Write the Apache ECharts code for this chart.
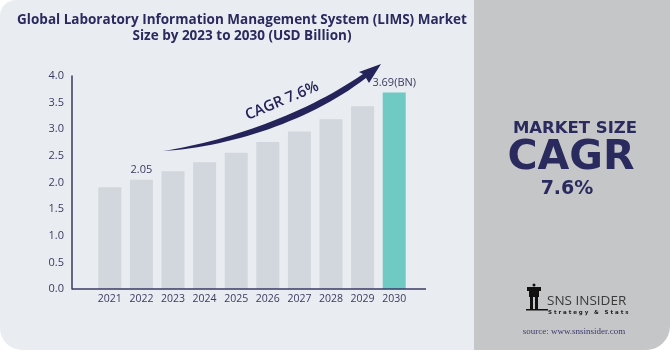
<!DOCTYPE html>
<html>
<head>
<meta charset="utf-8">
<script src="https://cdn.jsdelivr.net/npm/echarts@6/dist/echarts.min.js"></script>
<style>
  html, body { margin: 0; padding: 0; background: #ffffff; }
  #main { width: 670px; height: 350px; }
</style>
</head>
<body>
<div id="main"></div>
<script>
var years = ['2021', '2022', '2023', '2024', '2025', '2026', '2027', '2028', '2029', '2030'];
var marketSize = [1.91, 2.05, 2.21, 2.38, 2.56, 2.76, 2.96, 3.19, 3.43, 3.69];
var yTicks = [0, 0.5, 1, 1.5, 2, 2.5, 3, 3.5, 4];
var labelled = { '2022': '2.05', '2030': '3.69(BN)' };

var navy = '#2a2a5e';
var myChart = echarts.init(document.getElementById('main'));

var barData = marketSize.map(function (v, i) {
    var last = i === marketSize.length - 1;
    return {
        value: v,
        itemStyle: { color: last ? '#6ecac3' : '#d1d7dc' },
        label: {
            show: labelled[years[i]] !== undefined,
            formatter: labelled[years[i]] || ''
        }
    };
});

// swoosh arrow outline (decoration): sample two cubic curves
function cubic(p0, p1, p2, p3, n) {
    var pts = [];
    for (var k = 0; k <= n; k++) {
        var t = k / n, u = 1 - t;
        pts.push([
            u * u * u * p0[0] + 3 * u * u * t * p1[0] + 3 * u * t * t * p2[0] + t * t * t * p3[0],
            u * u * u * p0[1] + 3 * u * u * t * p1[1] + 3 * u * t * t * p2[1] + t * t * t * p3[1]
        ]);
    }
    return pts;
}
var arrowPts = cubic([163, 151], [230, 147], [310, 121], [366, 78], 30)
    .concat([[369, 83], [381, 64], [359, 72]])
    .concat(cubic([363, 74], [305, 114], [228, 141], [163, 151], 30));

var option = {
    backgroundColor: '#ffffff',
    animation: false,
    title: {
        text: 'Global Laboratory Information Management System (LIMS) Market\nSize by 2023 to 2030 (USD Billion)',
        left: 237,
        top: 7,
        textAlign: 'center',
        textStyle: {
            fontFamily: 'Open Sans',
            fontWeight: 'bold',
            fontSize: 13.5,
            lineHeight: 16,
            color: navy
        },
        z: 10
    },
    grid: { left: 94, top: 76, width: 316, height: 213 },
    xAxis: {
        type: 'category',
        data: years,
        axisLine: { show: false },
        axisTick: { show: false },
        axisLabel: { interval: 0, color: '#3b3b60', fontSize: 10.5, fontFamily: 'Open Sans', margin: 5 }
    },
    yAxis: {
        type: 'value',
        min: 0,
        max: 4,
        interval: 0.5,
        offset: 22,
        splitLine: { show: false },
        axisLine: { show: true, lineStyle: { color: '#3a3a66', width: 1.5 } },
        axisTick: { show: false },
        axisLabel: {
            color: '#3b3b60',
            fontSize: 11,
            fontFamily: 'Open Sans',
            margin: 8,
            formatter: function (v) { return yTicks.indexOf(v) >= 0 ? v.toFixed(1) : ''; }
        }
    },
    series: [{
        type: 'bar',
        data: barData,
        barWidth: 23,
        label: {
            position: 'top',
            distance: 4,
            color: '#3b3b60',
            fontSize: 11,
            fontFamily: 'Open Sans'
        },
        z: 5
    }],
    graphic: [
        // panels
        { type: 'rect', z: -10, shape: { x: 0, y: 0, width: 476, height: 350, r: [16, 0, 0, 22] }, style: { fill: '#e9ecf1' } },
        { type: 'rect', z: -9, shape: { x: 474, y: 0, width: 196, height: 350, r: [0, 0, 24, 0] }, style: { fill: '#c5c6c8' } },
        // x axis line
        { type: 'line', z: 6, shape: { x1: 72, y1: 289, x2: 426, y2: 289 }, style: { stroke: '#3a3a66', lineWidth: 1.5 } },
        // growth arrow
        { type: 'polygon', z: 8, shape: { points: arrowPts }, style: { fill: '#24235a' } },
        {
            type: 'text', z: 8, x: 282, y: 101, rotation: 0.4,
            style: {
                text: 'CAGR 7.6%', fill: '#24235a', fontSize: 15, fontWeight: 600,
                fontFamily: 'Open Sans', align: 'center', verticalAlign: 'middle'
            }
        },
        // right panel
        {
            type: 'text', z: 8, x: 575, y: 129,
            style: { text: 'MARKET SIZE', fill: navy, fontSize: 16.5, fontWeight: 'bold', fontFamily: 'DejaVu Sans', align: 'center', verticalAlign: 'middle' }
        },
        {
            type: 'text', z: 8, x: 571, y: 158,
            style: { text: 'CAGR', fill: navy, fontSize: 41, fontWeight: 'bold', fontFamily: 'DejaVu Sans', align: 'center', verticalAlign: 'middle' }
        },
        {
            type: 'text', z: 8, x: 567, y: 189,
            style: { text: '7.6%', fill: navy, fontSize: 19, fontWeight: 'bold', fontFamily: 'DejaVu Sans', align: 'center', verticalAlign: 'middle' }
        },
        // logo
        { type: 'circle', z: 8, shape: { cx: 534, cy: 285, r: 1.5 }, style: { fill: '#111' } },
        { type: 'rect', z: 8, shape: { x: 527, y: 287, width: 14, height: 4 }, style: { fill: '#111' } },
        { type: 'rect', z: 8, shape: { x: 529, y: 291, width: 10, height: 6 }, style: { fill: '#111' } },
        { type: 'rect', z: 8, shape: { x: 530, y: 297, width: 3, height: 13 }, style: { fill: '#111' } },
        { type: 'rect', z: 8, shape: { x: 535, y: 297, width: 3, height: 13 }, style: { fill: '#111' } },
        { type: 'rect', z: 8, shape: { x: 526, y: 309, width: 22, height: 1.5 }, style: { fill: '#111' } },
        {
            type: 'text', z: 8, x: 547, y: 301,
            style: { text: 'SNS INSIDER', fill: '#3a3a3a', fontSize: 13.5, fontFamily: 'Open Sans', align: 'left', verticalAlign: 'middle' }
        },
        {
            type: 'text', z: 8, x: 548, y: 313,
            style: { text: 'S t r a t e g y   &   S t a t s', fill: '#222', fontSize: 5.5, fontWeight: 'bold', fontFamily: 'DejaVu Sans', align: 'left', verticalAlign: 'middle' }
        },
        {
            type: 'text', z: 8, x: 574, y: 332,
            style: { text: 'source: www.snsinsider.com', fill: '#3a3a6a', fontSize: 9, fontFamily: 'Liberation Serif', align: 'center', verticalAlign: 'middle' }
        }
    ]
};
myChart.setOption(option);
</script>
</body>
</html>
